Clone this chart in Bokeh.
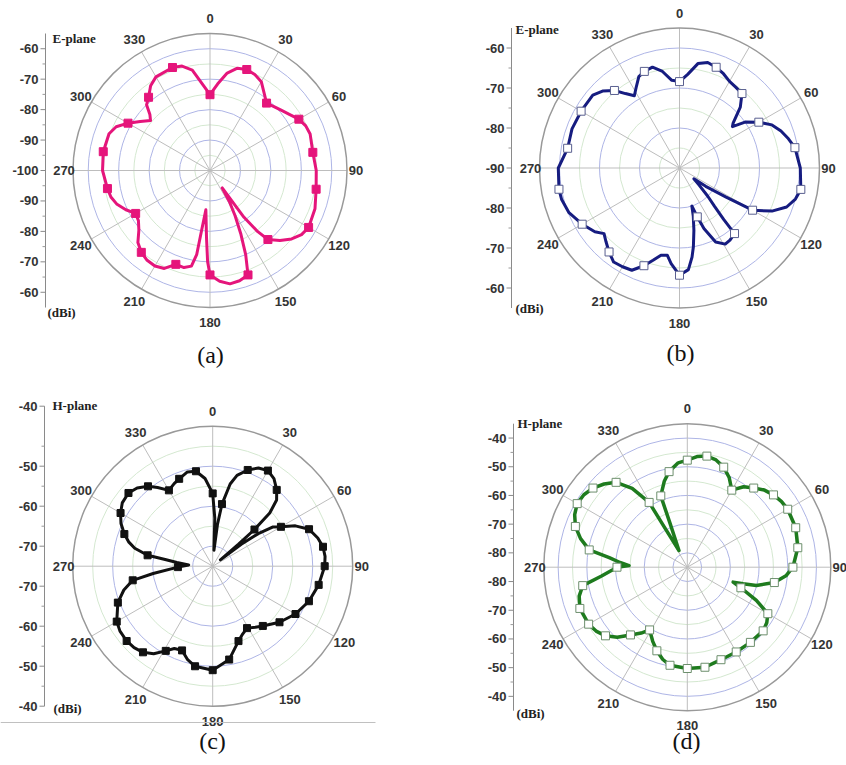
import numpy as np
from bokeh.plotting import figure
from bokeh.layouts import column, row
from bokeh.models import Range1d
from bokeh.embed import file_html
from bokeh.resources import INLINE
from bokeh.core.properties import value

# ---------------- data (angle in degrees, gain in dBi) ----------------
angle_labels = [0, 30, 60, 90, 120, 150, 180, 210, 240, 270, 300, 330]

# (a) E-plane, pink
a_ang = [0, 5, 10, 15, 20, 25, 30, 35, 40, 45, 50, 55, 60, 65, 70, 80, 90, 100, 110, 120,
         125, 130, 135, 140, 142, 144, 145, 148, 151, 154, 157, 160, 165, 170, 175, 180,
         181.5, 183, 186, 188, 189, 191, 195, 200, 205, 210, 215, 220, 225, 230, 235, 240,
         245, 250, 255, 260, 270, 280, 290, 295, 300, 305, 310, 313, 316, 320, 325, 330,
         340, 345, 350, 355, 360]
a_db = [-75.1, -71.5, -67.5, -65.2, -64.7, -65.2, -66.3, -69, -71.1, -70.3, -69.3, -68,
        -66.3, -65.3, -65, -65.7, -65.1, -64.6, -63.3, -62.6, -63.3, -65, -67.5, -70.4,
        -74.5, -81, -93, -88, -83, -77, -70, -63.5, -62.5, -62.2, -63.5, -65.7,
        -70, -78, -87, -80, -72, -68, -67, -67.2, -64.5, -63.8, -64, -64.9, -66.5, -69.5,
        -71.3, -71.8, -69.5, -67.5, -66.3, -65.8, -64.7, -64.4, -64.7, -66, -68.9, -72,
        -74.5, -73, -70, -68.6, -66, -64.5, -64, -64.5, -66.5, -71.5, -75.1]
a_marks = [0, 20, 40, 60, 80, 100, 120, 140, 160, 180, 200, 220, 240, 260, 280, 300, 320, 340]
a_ticks = [-60, -70, -80, -90, -100]

# (b) E-plane, navy
b_ang = [0, 5, 10, 15, 20, 25, 30, 35, 40, 45, 50, 52, 55, 60, 65, 70, 75, 80, 90, 100,
         105, 110, 115, 120, 122, 125, 127, 131, 135, 137.6, 139.3, 140, 145, 149, 154, 158,
         160, 162, 164, 167, 170, 172, 175, 180, 185, 188, 192, 196, 200, 205, 210, 215,
         220, 225, 229, 233, 240, 248, 255, 260, 270, 280, 290, 300, 310, 315, 320, 324,
         328, 332, 336, 340, 345, 350, 355, 360]
b_db = [-68.4, -66.5, -63.5, -62.7, -63.2, -64, -65, -65.4, -65.7, -68.5, -72.5, -73.2,
        -70, -67.1, -64.5, -63, -61.8, -60.7, -59.8, -59.2, -60, -61.5, -64.5, -68.9, -76.4,
        -82, -85.5, -83.5, -80, -77, -73, -68.6, -68, -67.8, -69.4, -73.7, -77, -80, -77.5,
        -74, -70, -67.5, -64.5, -63.2, -66, -68, -67.7, -66, -64, -61.8, -61.5, -61.3,
        -62.6, -64, -65, -63.5, -61.9, -60.2, -59.5, -59.4, -59.7, -61.6, -61.4, -61.6,
        -61.7, -62.8, -64.7, -67, -68.7, -67, -65, -64.3, -63.9, -65.5, -68, -68.4]
b_marks = [0, 20, 40, 60, 80, 100, 120, 140, 160, 180, 200, 220, 240, 260, 280, 300, 320, 340]
b_ticks = [-60, -70, -80, -90]

# (c) H-plane, black
c_ang = [0, 2.5, 4.5, 6.5, 8.5, 12, 15, 20, 25, 30, 35, 40, 44, 47, 48.7, 49.5, 50.5, 52.5,
         54.5, 57, 60, 64, 69, 75, 80, 85, 90, 100, 110, 120, 130, 140, 145, 151, 156, 161,
         170, 180, 190, 195, 200, 205, 209, 214, 219, 224, 229, 235, 240, 249, 255, 260,
         263, 268.5, 273, 276, 278, 279.5, 283, 286, 290, 295, 300, 305, 311, 316, 321,
         325, 330, 335, 339, 345, 350, 355, 360]
c_db = [-56.8, -63, -71, -64.5, -59.3, -54, -51.5, -49.4, -47.9, -47.4, -48.3, -50.1, -52,
        -55.5, -61.1, -66.5, -72.5, -66, -61, -57, -55.3, -52, -49.2, -47.8, -47, -46.8,
        -47, -48.1, -49.4, -51.1, -53.2, -55.5, -56.4, -57.3, -56.5, -55.2, -51.3, -49,
        -49.6, -50.8, -52.6, -52.3, -50.8, -48.6, -47.3, -46.7, -46.5, -46.7, -47.3, -49.6,
        -52, -54.7, -60, -66.3, -69, -66, -63, -58.5, -55, -53.2, -51.5, -49.7, -48.4,
        -47.4, -47.1, -47.8, -49.3, -51, -53.1, -52.2, -51.6, -50.6, -50.9, -53, -56.8]
c_marks = [0, 8.5, 20, 30, 40, 48.7, 60, 69, 80, 90, 100, 110, 120, 130, 140, 151, 161, 170,
           180, 190, 200, 209, 219, 229, 240, 249, 260, 268.5, 279.5, 290, 300, 311, 321,
           330, 339, 350]
c_ticks = [-40, -50, -60, -70]

# (d) H-plane, green
d_ang = [0, 5, 10, 15, 20, 25, 30, 35, 40, 45, 50, 55, 60, 70, 80, 90, 95, 100, 104.8,
         106.6, 108, 111, 115.7, 120, 125, 130, 140, 150, 160, 170, 180, 190, 195, 200, 205,
         211, 215, 220, 225, 230, 235, 240, 249, 255, 260, 264, 268, 270, 271.6, 274, 277,
         280, 285, 290, 295, 300, 305, 310, 315, 320, 325, 329.5, 330.2, 333.4, 338.5,
         339.6, 345, 349.2, 355, 360]
d_db = [-47.7, -46.3, -45.7, -46.3, -47.9, -50.5, -54, -50.8, -49, -47, -45.8, -45, -44.6,
        -44.8, -45.9, -48.2, -50.5, -54.2, -60.1, -64.7, -68.2, -65, -58.3, -52.6, -51.2,
        -50.5, -50.8, -50.9, -50.7, -49.6, -49.7, -50.3, -51.8, -54, -56.5, -59.5, -57,
        -54.2, -50.5, -47.8, -46.2, -45.3, -44.9, -46, -48, -54.8, -59, -60.5, -64.7, -61.5,
        -57.6, -50.3, -46.5, -43.5, -41.7, -40.7, -41, -42.1, -44, -46.4, -51.5, -58.8,
        -68.7, -78.5, -68.6, -58.5, -54, -51.1, -48.5, -47.7]
d_marks = [0, 10, 20, 30, 40, 50, 60, 70, 80, 90, 100, 111, 120, 130, 140, 150, 160, 170,
           180, 190, 200, 211, 220, 230, 240, 249, 260, 270, 280, 290, 300, 310, 320, 329.5,
           339.6, 349.2]
d_ticks = [-40, -50, -60, -70, -80]

SANS = value("Liberation Sans")
SERIF = value("Liberation Serif")
NUM_SIZE = "13px"


def make_panel(box, center, R, db0, db1, major, minor, ang, db, marks, lcolor, lwidth,
               mfill, mline, msize, ticks, axis_x, top_extra, title, title_xy, dbi_xy,
               tag, tag_xy):
    x0, y0, w, h = box
    cx, cy = center
    p = figure(width=w, height=h, output_backend="svg", toolbar_location=None,
               x_range=Range1d(x0 - cx, x0 + w - cx),
               y_range=Range1d(cy - (y0 + h), cy - y0),
               x_axis_location=None, y_axis_location=None,
               min_border=0, outline_line_color=None)
    p.grid.visible = False
    k = R / (db1 - db0)

    def rad(v):
        return (np.asarray(v, dtype=float) - db0) * k

    # grid circles
    p.circle(x=[0] * len(minor), y=[0] * len(minor), radius=list(rad(minor)),
             fill_color=None, line_color="#d4e8d0", line_width=1)
    p.circle(x=[0] * len(major), y=[0] * len(major), radius=list(rad(major)),
             fill_color=None, line_color="#aeb5e6", line_width=1)
    th = np.radians(angle_labels)
    p.segment(x0=[0] * len(th), y0=[0] * len(th), x1=list(R * np.sin(th)),
              y1=list(R * np.cos(th)), line_color="#bdbdbd", line_width=1)
    p.circle(x=[0], y=[0], radius=[R], fill_color=None, line_color="#999999", line_width=1.5)
    lr = R + 9 + 6 * np.abs(np.cos(th))
    p.text(x=list(lr * np.sin(th)), y=list(lr * np.cos(th)),
           text=[str(a) for a in angle_labels], text_align="center",
           text_baseline="middle", text_font=SANS, text_font_style="bold",
           text_font_size=NUM_SIZE, text_color="#333333")

    # left dB axis (mirrored about the centre)
    ax = axis_x - cx
    p.segment(x0=[ax], y0=[-R], x1=[ax], y1=[R + top_extra], line_color="#8a8a8a",
              line_width=1)
    ty, tl = [], []
    for i, v in enumerate(ticks):
        r = float(rad(v))
        if abs(r) < 1e-6:
            ty.append(0.0); tl.append(str(v))
        else:
            ty += [r + (top_extra if i == 0 else 0), -r]; tl += [str(v), str(v)]
    p.segment(x0=[ax - 5] * len(ty), y0=ty, x1=[ax] * len(ty), y1=ty,
              line_color="#8a8a8a", line_width=1)
    mids = [(a + b) / 2 for a, b in zip(ticks[:-1], ticks[1:])]
    my = []
    for v in mids:
        r = float(rad(v))
        my += [r, -r]
    p.segment(x0=[ax - 3] * len(my), y0=my, x1=[ax] * len(my), y1=my,
              line_color="#9a9a9a", line_width=1)
    p.text(x=[ax - 7] * len(ty), y=ty, text=tl, text_align="right", text_baseline="middle",
           text_font=SANS, text_font_style="bold", text_font_size=NUM_SIZE,
           text_color="#333333")

    # pattern
    t = np.radians(ang)
    r = rad(db)
    p.line(x=list(r * np.sin(t)), y=list(r * np.cos(t)), line_color=lcolor,
           line_width=lwidth, line_join="round")
    mk = [(a, d) for a, d in zip(ang, db) if a in marks]
    mt = np.radians([m[0] for m in mk])
    mr = rad([m[1] for m in mk])
    p.scatter(x=list(mr * np.sin(mt)), y=list(mr * np.cos(mt)), marker="square",
              size=msize, fill_color=mfill, line_color=mline, line_width=1)

    # texts
    p.text(x=[title_xy[0] - cx], y=[cy - title_xy[1]], text=[title], text_align="left",
           text_baseline="middle", text_font=SERIF, text_font_style="bold",
           text_font_size="13px", text_color="#222222")
    p.text(x=[dbi_xy[0] - cx], y=[cy - dbi_xy[1]], text=["(dBi)"], text_align="left",
           text_baseline="middle", text_font=SERIF, text_font_style="bold",
           text_font_size="13px", text_color="#222222")
    p.text(x=[tag_xy[0] - cx], y=[cy - tag_xy[1]], text=[tag], text_align="center",
           text_baseline="middle", text_font=SERIF, text_font_size="24px",
           text_color="#111111")
    return p


pa = make_panel((0, 0, 423, 382), (209.5, 170), 137, -100, -55,
                [-90, -80, -70, -60], [-95, -85, -75, -65], a_ang, a_db, a_marks,
                "#e5157b", 3, "#e5157b", "#e5157b", 8, a_ticks, 45, 0,
                "E-plane", (52, 38), (47, 312), "(a)", (210, 354))
pb = make_panel((423, 0, 423, 382), (679, 167.5), 140, -90, -55,
                [-80, -70, -60], [-85, -75, -65], b_ang, b_db, b_marks,
                "#161c80", 3, "white", "#5a6090", 8, b_ticks, 511, 0,
                "E-plane", (515, 29), (515, 308), "(b)", (680, 352))
pc = make_panel((0, 382, 423, 383), (212.2, 565.7), 140, -75, -40,
                [-70, -60, -50], [-65, -55, -45], c_ang, c_db, c_marks,
                "#111111", 3, "#111111", "#111111", 7, c_ticks, 44, 20,
                "H-plane", (52, 405), (53, 708), "(c)", (212, 740))
pd = make_panel((423, 382, 423, 383), (686.8, 566.7), 143.5, -85, -35,
                [-80, -70, -60, -50, -40], [-75, -65, -55, -45], d_ang, d_db, d_marks,
                "#1e7b1e", 3.5, "white", "#6d8f6d", 8, d_ticks, 513, 0,
                "H-plane", (517, 423), (516, 713), "(d)", (686, 740))
# thin rule under panel (c)
pc.segment(x0=[0 - 212.2], y0=[565.7 - 722], x1=[375 - 212.2], y1=[565.7 - 722],
           line_color="#c0c0c0", line_width=1)

layout = column(row(pa, pb), row(pc, pd))
open("out.html", "w").write(file_html(layout, INLINE))
